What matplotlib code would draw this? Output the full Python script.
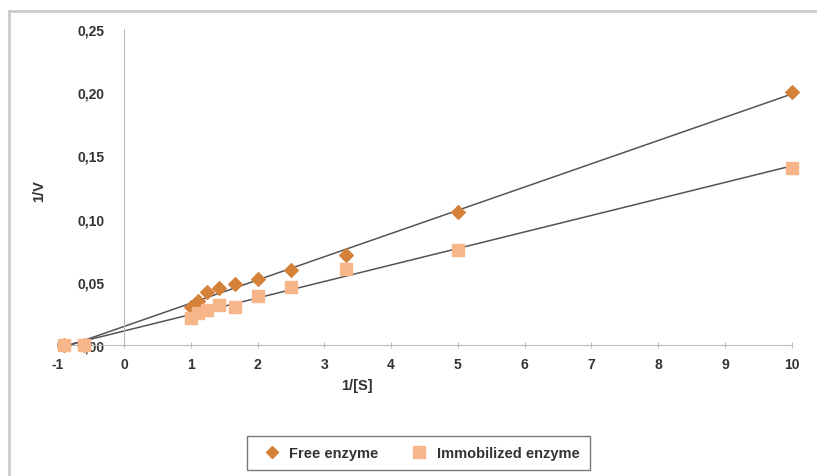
import numpy as np
import matplotlib
matplotlib.use('Agg')
import matplotlib.pyplot as plt
from matplotlib.ticker import FuncFormatter
from matplotlib.lines import Line2D

# Lineweaver-Burk: 1/[S] vs 1/V
s_inv = [-0.9, -0.6, 1.0, 1.11, 1.25, 1.43, 1.67, 2.0, 2.5, 3.33, 5.0, 10.0]
v_free = [0.0, 0.0, 0.030, 0.035, 0.042, 0.045, 0.048, 0.052, 0.059, 0.071, 0.105, 0.200]
v_immob = [0.0, 0.0, 0.021, 0.025, 0.028, 0.032, 0.030, 0.039, 0.046, 0.060, 0.075, 0.140]

labels = ['Free enzyme', 'Immobilized enzyme']
col_free = '#D4813A'
col_immob = '#F7B58A'

plt.rcParams['font.family'] = ['Liberation Sans', 'DejaVu Sans']

fig = plt.figure(figsize=(8.17, 4.77), dpi=100)
ax = fig.add_axes([0.070, 0.2746, 0.899, 0.6624])

# linie trendu (dopasowanie liniowe na wszystkich punktach, jak w Excelu)
x = np.array(s_inv)
for v in (v_free, v_immob):
    a, b = np.polyfit(x, np.array(v), 1)
    xs = np.array([-b / a, x.max()])
    ax.plot(xs, a * xs + b, color='#555555', lw=1.1, zorder=2)

ax.scatter(s_inv, v_free, marker='D', s=48, color=col_free, zorder=3, clip_on=False)
ax.scatter(s_inv, v_immob, marker='s', s=80, color=col_immob, zorder=3, clip_on=False)

ax.set_xlim(-1, 10)
ax.set_ylim(0, 0.25)
ax.set_xticks(range(-1, 11))
ax.set_yticks([0, 0.05, 0.10, 0.15, 0.20, 0.25])
ax.xaxis.set_major_formatter(FuncFormatter(lambda v, p: f'{v:.0f}'))
ax.yaxis.set_major_formatter(FuncFormatter(lambda v, p: f'{v:.2f}'.replace('.', ',')))

for s in ('top', 'right'):
    ax.spines[s].set_visible(False)
ax.spines['left'].set_position(('data', 0))
ax.spines['left'].set_color('#BBBBBB')
ax.spines['bottom'].set_color('#BBBBBB')
ax.tick_params(axis='x', direction='inout', length=5, color='#BBBBBB', labelsize=10, pad=6)
ax.tick_params(axis='y', length=0, labelsize=10, pad=14)
for t in ax.get_xticklabels() + ax.get_yticklabels():
    t.set_fontweight('bold')
    t.set_color('#333333')

ax.set_xlabel('1/[S]', fontsize=10.5, fontweight='bold', color='#333333')
ax.xaxis.set_label_coords(0.408, -0.105)
ax.set_ylabel('1/V', fontsize=10.5, fontweight='bold', color='#333333')
ax.yaxis.set_label_coords(-0.015, 0.49)

handles = [Line2D([], [], marker='D', ls='', color=col_free, markersize=6),
           Line2D([], [], marker='s', ls='', color=col_immob, markersize=8)]
leg = fig.legend(handles, labels, loc='center', bbox_to_anchor=(0.512, 0.048), ncol=2,
                 frameon=True, fancybox=False, handletextpad=0.2, columnspacing=1.8,
                 prop={'weight': 'bold', 'size': 10.5}, borderpad=0.7)
leg.get_frame().set_edgecolor('#555555')
leg.get_frame().set_linewidth(1.0)
for t in leg.get_texts():
    t.set_color('#333333')

# ramka wykresu
fig.add_artist(Line2D([0.011, 0.011], [0, 0.975], color='#CCCCCC', lw=2))
fig.add_artist(Line2D([0.011, 1.0], [0.975, 0.975], color='#CCCCCC', lw=2))

fig.savefig('out.png', dpi=100)
